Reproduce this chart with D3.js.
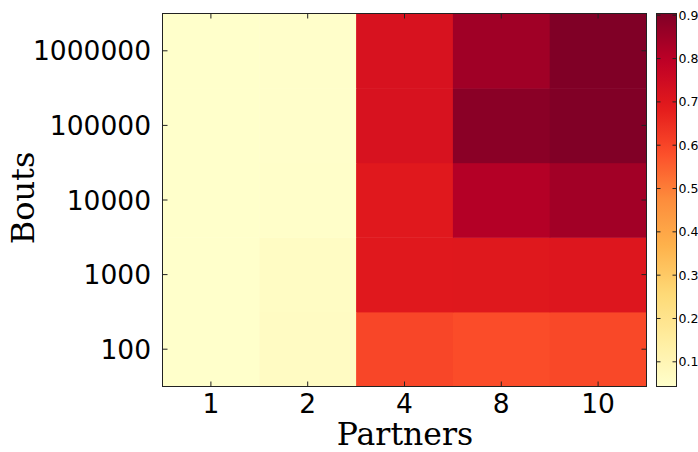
<!DOCTYPE html>
<html><head><meta charset="utf-8">
<script src="https://cdn.jsdelivr.net/npm/d3@7"></script>
<style>body{margin:0;background:#fff}svg{display:block}</style>
</head><body>
<svg id="c" width="698" height="452"></svg>
<script>
const partners = ["1", "2", "4", "8", "10"];
const bouts = ["100", "1000", "10000", "100000", "1000000"];
// values[boutIndex][partnerIndex]
const values100     = [0.045, 0.065, 0.598, 0.585, 0.594];
const values1000    = [0.045, 0.062, 0.697, 0.699, 0.706];
const values10000   = [0.045, 0.050, 0.697, 0.813, 0.844];
const values100000  = [0.045, 0.048, 0.723, 0.886, 0.902];
const values1000000 = [0.045, 0.048, 0.723, 0.847, 0.904];
const rows = [values100, values1000, values10000, values100000, values1000000];
const cbTicks = [0.1, 0.2, 0.3, 0.4, 0.5, 0.6, 0.7, 0.8, 0.9];
const vmin = 0.043, vmax = 0.904;

const ylorrd = ["#ffffcc","#ffeda0","#fed976","#feb24c","#fd8d3c","#fc4e2a","#e31a1c","#bd0026","#800026"];
const norm = d3.scaleLinear().domain([vmin, vmax]).range([0, 1]).clamp(true);
const cmap = d3.scaleLinear().domain(d3.range(9).map(i => i / 8)).range(ylorrd).interpolate(d3.interpolateRgb);
const color = v => cmap(norm(v));

const svg = d3.select("#c");
const L = 162.5, R = 646.5, T = 13.5, B = 386.5;
const x = d3.scaleBand().domain(partners).range([L, R]);
const y = d3.scaleBand().domain(bouts).range([B, T]);

const cells = [];
rows.forEach((r, i) => r.forEach((v, j) => cells.push({b: bouts[i], p: partners[j], v})));
svg.append("g").selectAll("rect").data(cells).join("rect")
  .attr("x", d => x(d.p)).attr("y", d => y(d.b))
  .attr("width", x.bandwidth() + 0.5).attr("height", y.bandwidth() + 0.5)
  .attr("fill", d => color(d.v));

// frame
svg.append("rect").attr("x", L).attr("y", T).attr("width", R - L).attr("height", B - T)
  .attr("fill", "none").attr("stroke", "#222").attr("stroke-width", 1);

const tl = 5;
const xc = p => x(p) + x.bandwidth() / 2;
const yc = b => y(b) + y.bandwidth() / 2;
const tg = svg.append("g").attr("stroke", "#222").attr("stroke-width", 1);
partners.forEach(p => {
  tg.append("line").attr("x1", xc(p)).attr("x2", xc(p)).attr("y1", B).attr("y2", B - tl);
  tg.append("line").attr("x1", xc(p)).attr("x2", xc(p)).attr("y1", T).attr("y2", T + tl);
});
bouts.forEach(b => {
  tg.append("line").attr("y1", yc(b)).attr("y2", yc(b)).attr("x1", L).attr("x2", L + tl);
  tg.append("line").attr("y1", yc(b)).attr("y2", yc(b)).attr("x1", R).attr("x2", R - tl);
});

svg.append("g").selectAll("text").data(partners).join("text")
  .attr("x", xc).attr("y", 413).attr("text-anchor", "middle")
  .attr("font-family", "DejaVu Sans").attr("font-size", 26.5).attr("fill", "#000")
  .text(d => d);
svg.append("g").selectAll("text").data(bouts).join("text")
  .attr("x", 151).attr("y", d => yc(d)).attr("dy", "0.36em").attr("text-anchor", "end")
  .attr("font-family", "DejaVu Sans").attr("font-size", 26.5).attr("fill", "#000")
  .text(d => d);

svg.append("text").attr("x", (L + R) / 2 + 0.5).attr("y", 445).attr("text-anchor", "middle")
  .attr("font-family", "DejaVu Serif").attr("font-size", 31.5).attr("fill", "#000").text("Partners");
svg.append("text").attr("transform", `translate(34,198) rotate(-90)`).attr("text-anchor", "middle")
  .attr("font-family", "DejaVu Serif").attr("font-size", 32).attr("fill", "#000").text("Bouts");

// colorbar
const cbL = 656.5, cbR = 676.5;
const cy = d3.scaleLinear().domain([vmin, vmax]).range([B, T]);
const defs = svg.append("defs");
const grad = defs.append("linearGradient").attr("id", "cbg").attr("x1", 0).attr("y1", 1).attr("x2", 0).attr("y2", 0);
d3.range(0, 1.0001, 0.02).forEach(t => grad.append("stop").attr("offset", t).attr("stop-color", cmap(t)));
svg.append("rect").attr("x", cbL).attr("y", T).attr("width", cbR - cbL).attr("height", B - T).attr("fill", "url(#cbg)");
svg.append("rect").attr("x", cbL).attr("y", T).attr("width", cbR - cbL).attr("height", B - T)
  .attr("fill", "none").attr("stroke", "#222").attr("stroke-width", 1);
const cg = svg.append("g");
cbTicks.forEach(t => {
  cg.append("line").attr("x1", cbR - 4).attr("x2", cbR).attr("y1", cy(t)).attr("y2", cy(t)).attr("stroke", "#222");
  cg.append("line").attr("x1", cbL).attr("x2", cbL + 4).attr("y1", cy(t)).attr("y2", cy(t)).attr("stroke", "#222");
  cg.append("text").attr("x", cbR + 2).attr("y", cy(t)).attr("dy", "0.36em")
    .attr("font-family", "DejaVu Sans").attr("font-size", 12.5).attr("fill", "#000").text(t.toFixed(1));
});
</script>
</body></html>
